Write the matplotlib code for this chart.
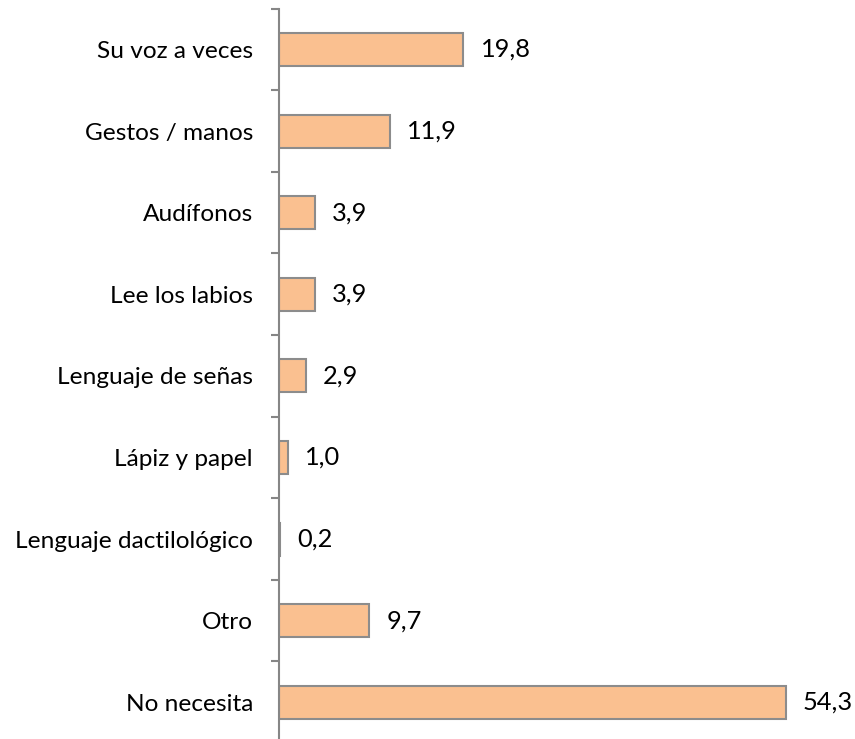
import matplotlib
matplotlib.use("Agg")
import matplotlib.pyplot as plt
import numpy as np

categories = ["Su voz a veces", "Gestos / manos", "Audífonos", "Lee los labios",
              "Lenguaje de señas", "Lápiz y papel", "Lenguaje dactilológico",
              "Otro", "No necesita"]
values = [19.8, 11.9, 3.9, 3.9, 2.9, 1.0, 0.2, 9.7, 54.3]

plt.rcParams['font.family'] = ['Lato', 'DejaVu Sans']

W, H = 855, 739
fig = plt.figure(figsize=(W / 100, H / 100), dpi=100)
left_px, top_px, bottom_px = 278.5, 8.7, 743.0
ax = fig.add_axes([left_px / W, 1 - bottom_px / H, 1 - left_px / W, (bottom_px - top_px) / H])

px_per_unit = 9.34
ax.set_xlim(0, (W - left_px) / px_per_unit)
ax.set_ylim(len(categories) - 0.5, -0.5)

y = np.arange(len(categories))
ax.barh(y, values, height=0.405, color="#FAC090", edgecolor="#8C8C8C", linewidth=1.5)

for yi, v in zip(y, values):
    ax.annotate(f"{v:.1f}".replace(".", ","), (v, yi), xytext=(12.3, 0),
                textcoords="offset points", ha="left", va="center",
                fontsize=18.3, color="black", annotation_clip=False)

for s in ["top", "right", "bottom"]:
    ax.spines[s].set_visible(False)
ax.spines["left"].set_color("#868686")
ax.spines["left"].set_linewidth(1.5)

ax.set_xticks([])
ax.set_yticks(y)
ax.set_yticklabels(categories, fontsize=17.6)
ax.tick_params(axis="y", which="major", length=0, pad=18.4)
ax.set_yticks(np.arange(-0.5, len(categories), 1.0), minor=True)
ax.tick_params(axis="y", which="minor", length=6, width=1.5, color="#868686")

fig.savefig("out.png", dpi=100)
